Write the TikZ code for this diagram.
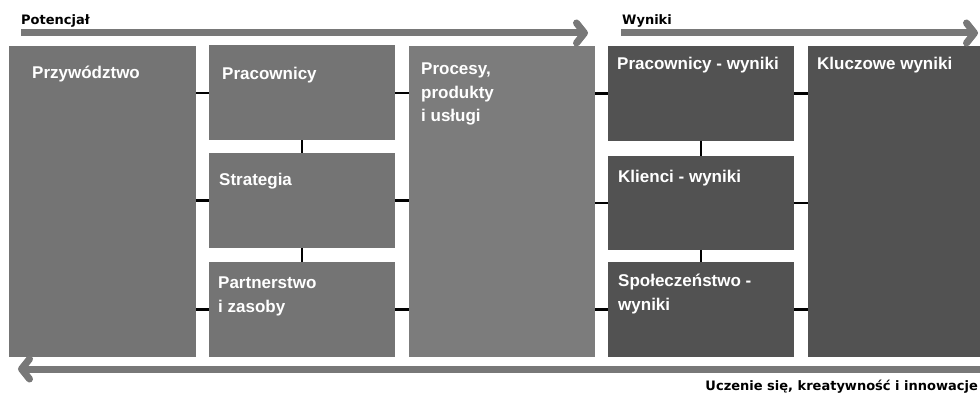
\documentclass[tikz,border=0pt]{standalone}
\usepackage{fontspec}
\setmainfont{Liberation Sans}
\newfontfamily\flowfont{DejaVu Sans}
\usetikzlibrary{arrows.meta}
\definecolor{potgray}{RGB}{116,116,116}
\definecolor{procgray}{RGB}{124,124,124}
\definecolor{wyngray}{RGB}{82,82,82}
\definecolor{arrgray}{RGB}{120,120,120}
\tikzset{
  box/.style={fill=#1, minimum width=186pt, minimum height=95pt, inner sep=0pt, outer sep=0pt},
  boxtext/.style={text=white, font=\fontsize{17}{23.5}\selectfont\bfseries, anchor=north west, align=left, inner sep=0pt},
  tick/.style={draw=black, line width=2.5pt},
  flow/.style={draw=arrgray, line width=7pt, -{Straight Barb[length=8pt,width=20pt,round]}},
  flowlabel/.style={font=\flowfont\fontsize{13}{16}\selectfont\bfseries, inner sep=0pt}
}
\begin{document}
\begin{tikzpicture}[x=1pt, y=-1pt]
    \useasboundingbox (0,0) rectangle (980,395);

    %% potencjal boxes
    \node[box=potgray, minimum width=187pt, minimum height=311pt] (przyw) at (102.5,201.5) {};
    \node[box=potgray] (prac) at (302,93) {};
    \node[box=potgray] (strat) at (302,200.5) {};
    \node[box=potgray] (partn) at (302,309.5) {};
    \node[box=procgray, minimum height=311pt] (proc) at (502,201.5) {};

    %% wyniki boxes
    \node[box=wyngray] (pracw) at (701,93.5) {};
    \node[box=wyngray, minimum height=94pt] (klien) at (701,203) {};
    \node[box=wyngray] (spol) at (701,309.5) {};
    \node[box=wyngray, minimum width=172pt, minimum height=311pt] (klucz) at (894,201.5) {};

    %% box texts
    \node[boxtext] at ([shift={(23pt,-20pt)}]przyw.north west) {Przywództwo};
    \node[boxtext] at ([shift={(13pt,-21pt)}]prac.north west) {Pracownicy};
    \node[boxtext] at ([shift={(10pt,-20pt)}]strat.north west) {Strategia};
    \node[boxtext] at ([shift={(9pt,-15pt)}]partn.north west) {Partnerstwo\\i zasoby};
    \node[boxtext] at ([shift={(12pt,-17pt)}]proc.north west) {Procesy,\\produkty\\i usługi};
    \node[boxtext] at ([shift={(9pt,-11pt)}]pracw.north west) {Pracownicy - wyniki};
    \node[boxtext] at ([shift={(10pt,-14pt)}]klien.north west) {Klienci - wyniki};
    \node[boxtext] at ([shift={(10pt,-12pt)}]spol.north west) {Społeczeństwo -\\wyniki};
    \node[boxtext] at ([shift={(9pt,-11pt)}]klucz.north west) {Kluczowe wyniki};

    %% ticks between boxes
    \foreach \b in {prac,strat,partn} {
      \draw[tick] (\b.west -| przyw.east) -- (\b.west);
      \draw[tick] (\b.east) -- (\b.east -| proc.west);
    }
    \foreach \b in {pracw,klien,spol} {
      \draw[tick] (\b.west -| proc.east) -- (\b.west);
      \draw[tick] (\b.east) -- (\b.east -| klucz.west);
    }
    \draw[tick] (prac.south) -- (strat.north);
    \draw[tick] (strat.south) -- (partn.north);
    \draw[tick] (pracw.south) -- (klien.north);
    \draw[tick] (klien.south) -- (spol.north);

    %% flow arrows
    \coordinate (potstart) at (21,33);
    \coordinate (potend) at (588,33);
    \coordinate (wynstart) at (621,33);
    \coordinate (wynend) at (978,33);
    \coordinate (uczstart) at (980,369);
    \coordinate (uczend) at (18,369);
    \draw[flow] (potstart) -- (potend);
    \draw[flow] (wynstart) -- (wynend);
    \draw[flow] (uczstart) -- (uczend);
    \node[flowlabel, anchor=base west] (potlabel) at (21,25) {Potencjał};
    \node[flowlabel, anchor=base west] (wynlabel) at (622,25) {Wyniki};
    \node[flowlabel, anchor=base east] (uczlabel) at (978,390) {Uczenie się, kreatywność i innowacje};
  \end{tikzpicture}
\end{document}
